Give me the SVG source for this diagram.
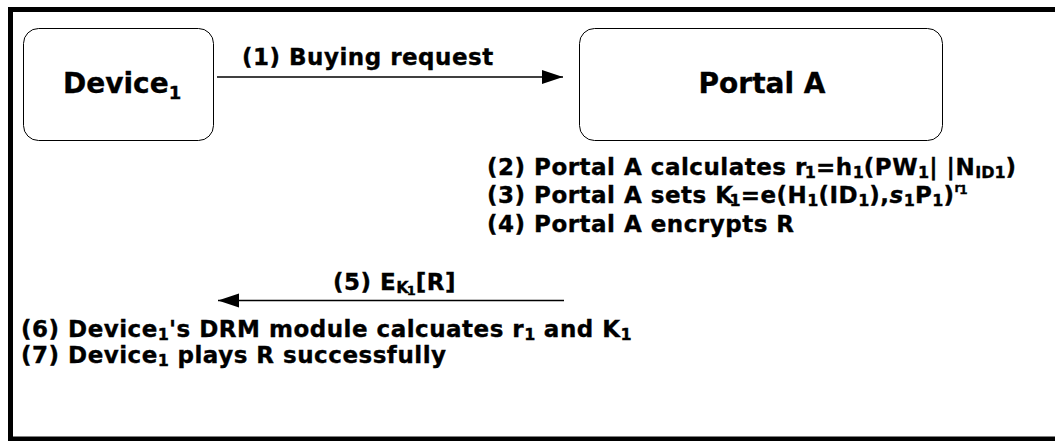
<svg xmlns="http://www.w3.org/2000/svg" width="1055" height="441" viewBox="0 0 1055 441">
  <style>
    text { font-family: "DejaVu Sans", Verdana, sans-serif; font-weight: bold; fill: #000; stroke: #000; stroke-width: 0.35px; }
    .node { fill: #fff; stroke: #000; stroke-width: 1; }
    .big { font-size: 28px; }
    .step { font-size: 23px; letter-spacing: 0.5px; }
    .sub { font-size: 16px; letter-spacing: 0; }
    .conn { stroke: #000; stroke-width: 1.3; fill: none; }
  </style>
  <defs>
    <marker id="head" markerUnits="userSpaceOnUse" markerWidth="22" markerHeight="16" refX="21" refY="7" orient="auto">
      <path d="M0,0 L21,7 L0,14 Z" fill="#000"/>
    </marker>
  </defs>

  <rect width="1055" height="441" fill="#fff"/>
  <!-- frame -->
  <rect x="10.5" y="9.5" width="1060" height="429.5" fill="none" stroke="#000" stroke-width="5"/>

  <g id="device1">
    <rect class="node" x="23.5" y="28.5" width="190" height="112" rx="15"/>
    <text class="big" x="63" y="93">Device<tspan font-size="18" dy="6">1</tspan></text>
  </g>

  <g id="portalA">
    <rect class="node" x="579.5" y="28.5" width="363" height="112" rx="15"/>
    <text class="big" x="762" y="93" text-anchor="middle">Portal A</text>
  </g>

  <g id="connectors">
    <line class="conn" x1="217" y1="77" x2="563" y2="77" marker-end="url(#head)"/>
    <line class="conn" x1="564" y1="300.5" x2="218" y2="300.5" marker-end="url(#head)"/>
  </g>

  <g id="labels">
    <text class="step" x="242" y="65">(1) Buying request</text>

    <text class="step" x="487" y="175">(2) Portal A calculates r<tspan class="sub" dy="3" dx="-2">1</tspan><tspan dy="-3">=h</tspan><tspan class="sub" dy="3">1</tspan><tspan dy="-3">(PW</tspan><tspan class="sub" dy="3">1</tspan><tspan dy="-3">| |N</tspan><tspan class="sub" font-size="15" dy="3">ID1</tspan><tspan dy="-3">)</tspan></text>

    <text class="step" x="487" y="203">(3) Portal A sets K<tspan class="sub" dy="3" dx="-4">1</tspan><tspan dy="-3">=e(H</tspan><tspan class="sub" dy="3">1</tspan><tspan dy="-3">(ID</tspan><tspan class="sub" dy="3">1</tspan><tspan dy="-3">),</tspan><tspan font-style="italic">s</tspan><tspan class="sub" dy="3">1</tspan><tspan dy="-3">P</tspan><tspan class="sub" dy="3">1</tspan><tspan dy="-3">)</tspan><tspan font-size="12" letter-spacing="0" dy="-11">r</tspan><tspan font-size="12" letter-spacing="0" dy="2" dx="-1">1</tspan></text>

    <text class="step" x="487" y="232">(4) Portal A encrypts R</text>

    <text class="step" x="333" y="290">(5) E<tspan class="sub" dy="3">K</tspan><tspan font-size="13" letter-spacing="0" dy="2" dx="-2">1</tspan><tspan dy="-5">[R]</tspan></text>

    <text class="step" x="21" y="337">(6) Device<tspan class="sub" dy="3">1</tspan><tspan dy="-3">'s DRM module  calcuates r</tspan><tspan class="sub" dy="3">1</tspan><tspan dy="-3"> and K</tspan><tspan class="sub" dy="3">1</tspan></text>

    <text class="step" x="21" y="363">(7) Device<tspan class="sub" dy="3">1</tspan><tspan dy="-3"> plays R successfully</tspan></text>
  </g>
</svg>
